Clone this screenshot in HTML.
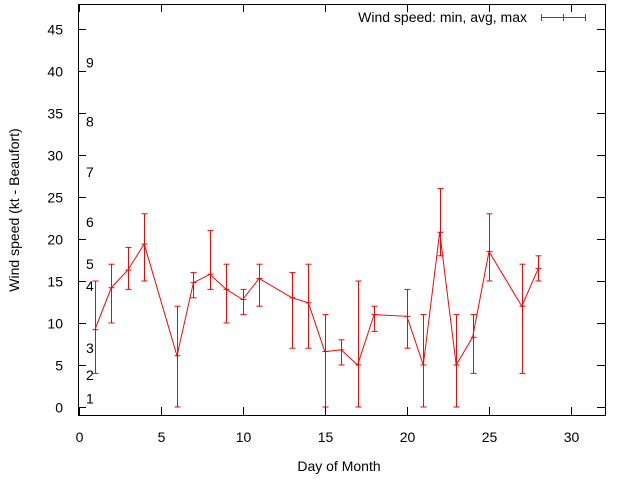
<!DOCTYPE html>
<html><head><meta charset="utf-8"><style>
html,body{margin:0;padding:0;background:#fff}
svg{display:block;font-family:"Liberation Sans",sans-serif}
</style></head><body>
<svg id="chart" width="640" height="480" viewBox="0 0 640 480" xmlns="http://www.w3.org/2000/svg">
<rect x="0" y="0" width="640" height="480" fill="#fff"/>
<g id="axes"></g>
<g id="beaufort" font-size="14" fill="#000"></g>
<g id="series"></g>
<rect x="78.5" y="4.5" width="527" height="411" fill="none" stroke="#000" stroke-width="1"/>
<text transform="translate(19,210) rotate(-90)" text-anchor="middle" font-size="14">Wind speed (kt - Beaufort)</text>
<text x="339" y="471" text-anchor="middle" font-size="14">Day of Month</text>
<g>
<text x="527" y="22" text-anchor="end" font-size="14">Wind speed: min, avg, max</text>
<g stroke="#f00" stroke-width="1">
<line x1="541" y1="17.5" x2="585" y2="17.5"/><line x1="541.5" y1="14" x2="541.5" y2="21"/><line x1="563.5" y1="14" x2="563.5" y2="21"/><line x1="585.5" y1="14" x2="585.5" y2="21"/>
</g></g>
</svg>
<script>
const days=[1,2,3,4,6,7,8,9,10,11,13,14,15,16,17,18,20,21,22,23,24,25,27,28];
const avgs=[9.2,14.2,16.3,19.4,6.1,14.8,15.8,14,12.8,15.3,13,12.4,6.6,6.8,5,11,10.8,5,20.8,5,8.3,18.5,12,16.5];
const mins=[4,10,14,15,0,13,14,10,11,12,7,7,0,5,0,9,7,0,18,0,4,15,4,15];
const maxs=[15,17,19,23,12,16,21,17,14,17,16,17,11,8,15,12,14,11,26,11,11,23,17,18];
const xTicks=[0,5,10,15,20,25,30];
const yTicks=[0,5,10,15,20,25,30,35,40,45];
const bfLabels=["1","2","3","4","5","6","7","8","9"];
const bfValues=[1,3.8,7,14.4,17,22,28,34,41];
const NS="http://www.w3.org/2000/svg";
const X=v=>78.5+v*16.42;
const Y=v=>407-v*8.4;
function mk(tag,attrs,parent){const e=document.createElementNS(NS,tag);for(const k in attrs)e.setAttribute(k,attrs[k]);parent.appendChild(e);return e;}
const axes=document.getElementById('axes');
xTicks.forEach(t=>{
 const x=Math.round(X(t))+0.5;
 const l=mk('line',{x1:x,y1:415,x2:x,y2:407,stroke:'#000'},axes);
 
 
 const l2=mk('line',{x1:x,y1:4,x2:x,y2:12,stroke:'#000'},axes);
 
 
 const tx=mk('text',{x:x,y:442,'text-anchor':'middle','font-size':14},axes);
 tx.textContent=t;
 
 
});
yTicks.forEach(t=>{
 const y=Math.round(Y(t))+0.5;
 const l=mk('line',{x1:78,y1:y,x2:86,y2:y,stroke:'#000'},axes);
 
 
 const l2=mk('line',{x1:597,y1:y,x2:605,y2:y,stroke:'#000'},axes);
 
 
 const tx=mk('text',{x:63,y:y+5,'text-anchor':'end','font-size':14},axes);
 tx.textContent=t;
 
 
});
const bf=document.getElementById('beaufort');
bfLabels.forEach((s,i)=>{
 const tx=mk('text',{x:86,y:Y(bfValues[i])+5},bf);
 tx.textContent=s;
 
 
});
const ser=document.getElementById('series');
const pts=days.map((d,i)=>X(d).toFixed(1)+','+Y(avgs[i]).toFixed(1)).join(' ');
const pl=mk('polyline',{points:pts,fill:'none',stroke:'#f00','stroke-width':1},ser);


days.forEach((d,i)=>{
 const x=Math.round(X(d))+0.5;
 const g=mk('g',{stroke:'#f00','stroke-width':1},ser);
 
 
 mk('line',{x1:x,y1:Y(mins[i]),x2:x,y2:Y(maxs[i])},g);
 mk('line',{x1:x-3,y1:Y(mins[i]),x2:x+3,y2:Y(mins[i])},g);
 mk('line',{x1:x-3,y1:Y(maxs[i]),x2:x+3,y2:Y(maxs[i])},g);
 mk('line',{x1:x-3,y1:Y(avgs[i]),x2:x+3,y2:Y(avgs[i])},g);
});
</script>
</body></html>
